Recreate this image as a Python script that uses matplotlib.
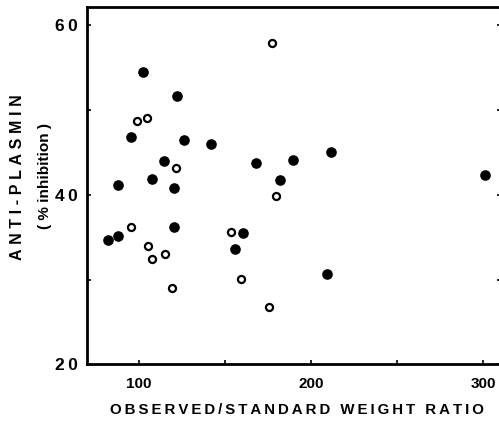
import matplotlib
matplotlib.use("Agg")
import matplotlib.pyplot as plt
from matplotlib.ticker import FixedLocator

# Data
filled_x = [102.5, 121.9, 95.2, 126.2, 141.9, 114.5, 107.4, 87.6, 120.5, 82.2,
            87.6, 120.3, 168.2, 189.7, 211.6, 182.0, 160.3, 155.6, 209.3, 301.0]
filled_y = [54.5, 51.6, 46.8, 46.5, 46.0, 44.0, 41.9, 41.1, 40.8, 34.7,
            35.1, 36.2, 43.7, 44.1, 45.0, 41.7, 35.5, 33.6, 30.7, 42.3]
open_x = [177.3, 99.0, 104.7, 121.5, 179.7, 95.3, 153.3, 105.4, 107.3, 115.3,
          119.2, 159.1, 175.6]
open_y = [57.9, 48.7, 49.1, 43.2, 39.9, 36.2, 35.6, 34.0, 32.4, 33.0,
          29.0, 30.1, 26.8]

x_ticks = [100, 200, 300]
x_tick_labels = ["100", "200", "300"]
y_ticks = [20, 40, 60]
y_tick_labels = ["2\u20090", "4\u20090", "6\u20090"]
x_label = "OBSERVED/STANDARD WEIGHT RATIO"
y_label1 = "ANTI-PLASMIN"
y_label2 = "( % inhibition )"

FAM = ["Liberation Sans", "DejaVu Sans"]
plt.rcParams["font.family"] = FAM

def spaced(s, sep="\u2009"):
    return sep.join(list(s))

fig = plt.figure(figsize=(4.99, 4.23), dpi=100)
ax = fig.add_axes([87.3 / 499, (423 - 364.3) / 423, (500.5 - 87.3) / 499, (364.3 - 7.3) / 423])

ax.scatter(filled_x, filled_y, s=44, color="black", zorder=3, clip_on=False)
ax.scatter(open_x, open_y, s=26, facecolor="white", edgecolor="black", linewidths=1.6, zorder=3)

ax.set_xlim(70, 310)
ax.set_ylim(20, 62.1)

for sp in ["left", "bottom", "top", "right"]:
    ax.spines[sp].set_linewidth(2.0)

ax.xaxis.set_major_locator(FixedLocator(x_ticks))
ax.set_xticklabels(x_tick_labels, fontsize=11, fontweight="bold")
ax.xaxis.set_minor_locator(FixedLocator([150, 250]))
ax.yaxis.set_major_locator(FixedLocator(y_ticks))
ax.set_yticklabels(y_tick_labels, fontsize=12.5, fontweight="bold")
ax.yaxis.set_minor_locator(FixedLocator([30, 50]))

ax.tick_params(axis="both", which="both", direction="in", length=3, width=1.2)
ax.tick_params(axis="y", which="both", right=True, left=True)
ax.tick_params(axis="x", which="major", pad=9)
ax.tick_params(axis="y", which="major", pad=7)

fig.text(297 / 499, 1 - 410 / 423, spaced(x_label), ha="center", va="center",
         fontsize=10.8, fontweight="bold", family=FAM)
fig.text(18 / 499, 1 - 177 / 423, spaced(y_label1, "\u2009\u200a"), ha="center", va="center",
         rotation=90, fontsize=11.5, fontweight="bold", family=FAM)
fig.text(45 / 499, 1 - 176 / 423, y_label2, ha="center", va="center",
         rotation=90, fontsize=11, fontweight="bold", family=FAM)

fig.savefig("out.png", dpi=100)
